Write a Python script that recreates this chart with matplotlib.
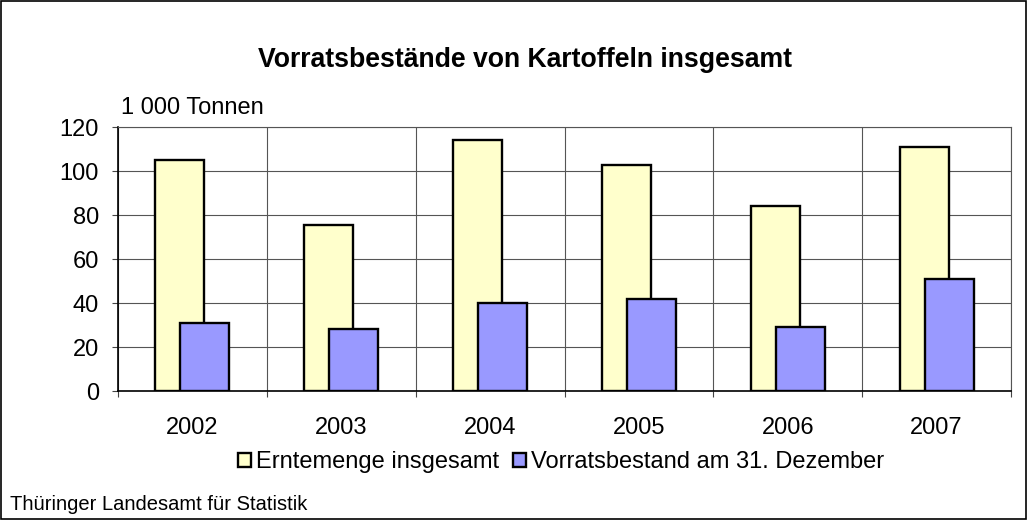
import matplotlib
matplotlib.use("Agg")
import matplotlib.pyplot as plt
import numpy as np
from matplotlib.patches import Rectangle

years = ["2002", "2003", "2004", "2005", "2006", "2007"]
erntemenge = [105, 75.5, 114, 102.7, 84, 111]
vorrat = [31, 28, 40.2, 41.8, 29.3, 51]

plt.rcParams["font.family"] = ["Liberation Sans", "DejaVu Sans"]

fig = plt.figure(figsize=(10.28, 5.2), dpi=100)
ax = fig.add_axes([118 / 1028, 1 - 391 / 520, (1011 - 118) / 1028, (391 - 127) / 520])

x = np.arange(len(years))
w = 0.33
off = 0.084
ax.bar(x - off, erntemenge, w, color="#FFFFCC", edgecolor="black", lw=1.7,
       label="Erntemenge insgesamt", zorder=3)
ax.bar(x + off, vorrat, w, color="#9999FF", edgecolor="black", lw=1.7,
       label="Vorratsbestand am 31. Dezember", zorder=4)

ax.set_xlim(-0.5, len(years) - 0.5)
ax.set_ylim(0, 120)
ax.set_yticks(np.arange(0, 121, 20))
ax.set_xticks(x)
ax.set_xticklabels(years)
ax.set_xticks(np.arange(-0.5, len(years), 1), minor=True)
ax.tick_params(axis="x", which="major", length=0, pad=18.5, labelsize=17)
ax.tick_params(axis="x", which="minor", length=4.3, width=0.8, color="#444444")
ax.tick_params(axis="y", length=4.3, width=0.8, color="#444444", labelsize=17, pad=9.5)
ax.grid(axis="y", which="major", color="#555555", lw=0.8, zorder=0)
ax.grid(axis="x", which="minor", color="#555555", lw=0.8, zorder=0)
for s in ["top", "right"]:
    ax.spines[s].set_color("#555555")
    ax.spines[s].set_linewidth(0.8)
for s in ["left", "bottom"]:
    ax.spines[s].set_color("black")
    ax.spines[s].set_linewidth(1.2)

fig.text(525 / 1028, 1 - 60 / 520, "Vorratsbestände von Kartoffeln insgesamt",
         ha="center", va="center", fontsize=19.2, fontweight="bold")
fig.text(121 / 1028, 1 - 108 / 520, "1 000 Tonnen", ha="left", va="center", fontsize=17)
fig.text(10 / 1028, 1 - 504 / 520, "Thüringer Landesamt für Statistik",
         ha="left", va="center", fontsize=14.5)

ax.legend(loc="center", bbox_to_anchor=(561 / 1028, 1 - 462 / 520),
          bbox_transform=fig.transFigure, ncol=2, frameon=False, fontsize=17,
          handlelength=0.55, handleheight=0.55, handletextpad=0.2, columnspacing=0.6,
          borderpad=0)

fig.add_artist(Rectangle((0.001, 0.001), 0.997, 0.997, transform=fig.transFigure,
                         fill=False, edgecolor="black", lw=1.2))

fig.savefig("out.png", dpi=100)
